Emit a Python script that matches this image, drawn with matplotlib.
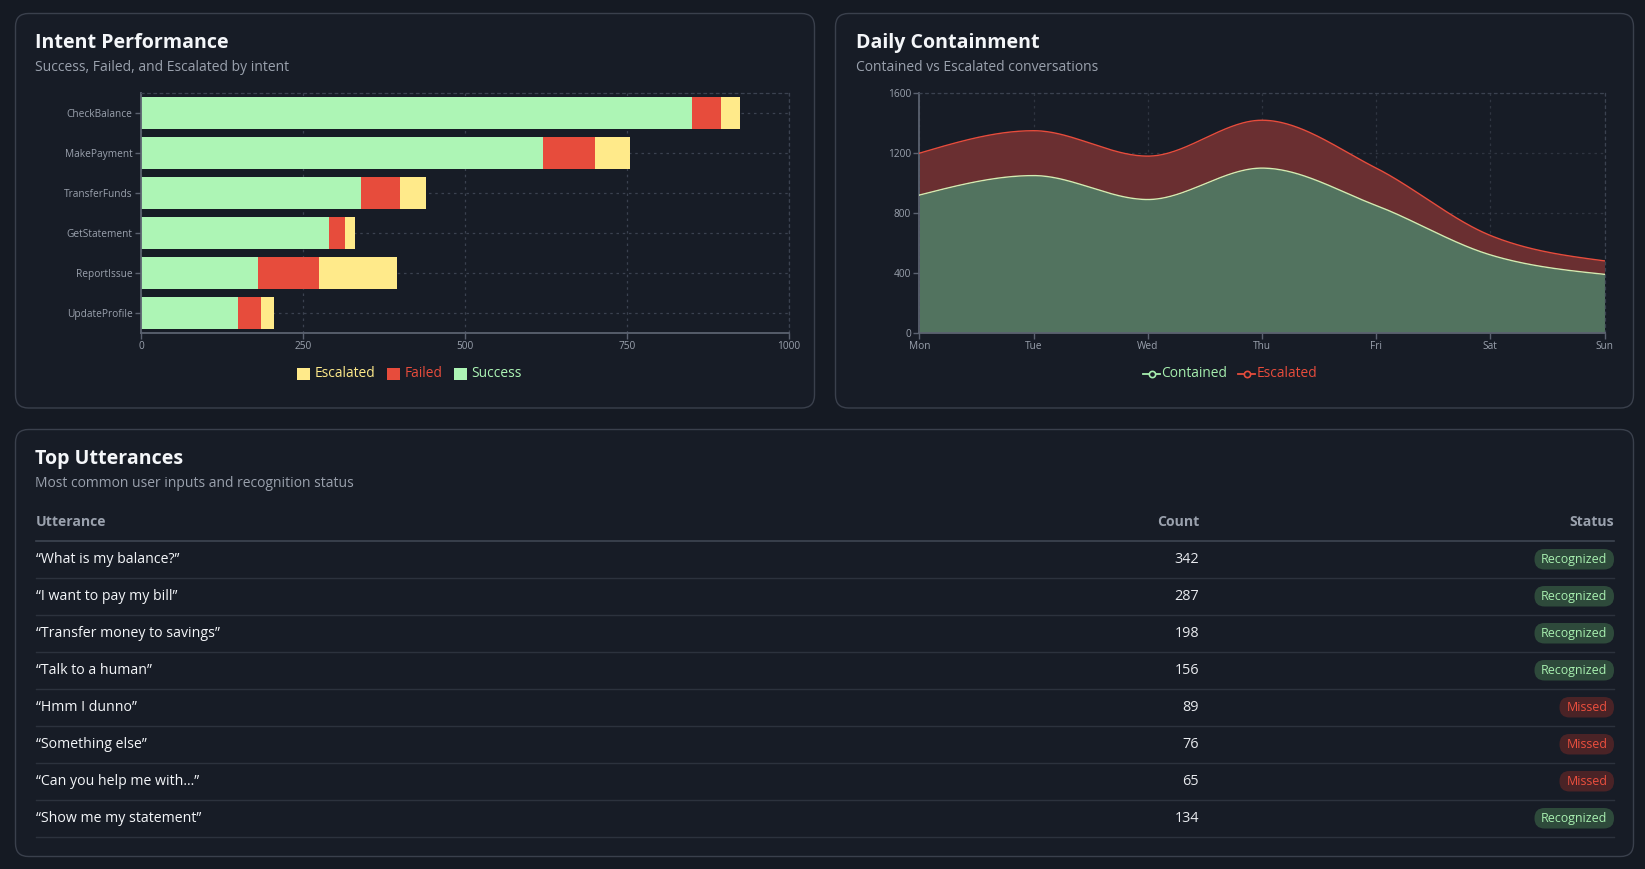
import numpy as np
import matplotlib
matplotlib.use("Agg")
import matplotlib.pyplot as plt
from matplotlib.patches import FancyBboxPatch, Rectangle
from matplotlib.lines import Line2D

# ---------------- data ----------------
intents = ["CheckBalance", "MakePayment", "TransferFunds", "GetStatement", "ReportIssue", "UpdateProfile"]
success = [850, 620, 340, 290, 180, 150]
failed = [45, 80, 60, 25, 95, 35]
escalated = [30, 55, 40, 15, 120, 20]
bar_ticks = [0, 250, 500, 750, 1000]

days = ["Mon", "Tue", "Wed", "Thu", "Fri", "Sat", "Sun"]
contained_daily = [920, 1050, 890, 1100, 850, 520, 390]
escalated_daily = [280, 300, 290, 320, 250, 130, 90]
area_ticks = [0, 400, 800, 1200, 1600]

utterances = ["\u201cWhat is my balance?\u201d", "\u201cI want to pay my bill\u201d",
              "\u201cTransfer money to savings\u201d", "\u201cTalk to a human\u201d",
              "\u201cHmm I dunno\u201d", "\u201cSomething else\u201d",
              "\u201cCan you help me with...\u201d", "\u201cShow me my statement\u201d"]
counts = [342, 287, 198, 156, 89, 76, 65, 134]
statuses = ["Recognized", "Recognized", "Recognized", "Recognized", "Missed", "Missed", "Missed", "Recognized"]

# ---------------- style ----------------
FONT = ["Open Sans", "DejaVu Sans"]
plt.rcParams["font.family"] = FONT
BG = "#151a23"
PANEL = "#171c26"
BORDER = "#3a404c"
WHITE = "#f4f6f9"
SUB = "#9aa1ad"
TICK = "#9aa1ad"
GRID = "#3b4250"
GREEN = "#adf5b5"
RED = "#e74c3c"
YELLOW = "#ffea8a"

W, H = 1645, 869
fig = plt.figure(figsize=(W / 100, H / 100), dpi=100, facecolor=BG)
bg = fig.add_axes([0, 0, 1, 1])
bg.set_xlim(0, W)
bg.set_ylim(H, 0)
bg.axis("off")
bg.set_facecolor(BG)


def panel(x0, y0, x1, y1):
    p = FancyBboxPatch((x0, y0), x1 - x0, y1 - y0,
                       boxstyle="round,pad=0,rounding_size=13",
                       facecolor=PANEL, edgecolor=BORDER, linewidth=1.0)
    bg.add_patch(p)


def add_ax(l, t, r, b):
    return fig.add_axes([l / W, 1 - b / H, (r - l) / W, (b - t) / H])


panel(15.5, 13.5, 814.5, 408)
panel(835.5, 13.5, 1633.5, 408)
panel(15.5, 429.5, 1633.5, 856.5)

def header(x, y, title, sub):
    bg.text(x, y, title, fontsize=14.1, fontweight="bold", color=WHITE, va="center", ha="left")
    bg.text(x, y + 24.5, sub, fontsize=10.0, color=SUB, va="center", ha="left")

header(35, 43, "Intent Performance", "Success, Failed, and Escalated by intent")
header(855.5, 43, "Daily Containment", "Contained vs Escalated conversations")
header(35, 459, "Top Utterances", "Most common user inputs and recognition status")


def style_axes(ax):
    ax.set_facecolor("none")
    for s in ["left", "bottom"]:
        ax.spines[s].set_color("#5b6270")
        ax.spines[s].set_linewidth(1.3)
    for s in ["top", "right"]:
        ax.spines[s].set_color(GRID)
        ax.spines[s].set_linewidth(0.9)
        ax.spines[s].set_linestyle((0, (2, 3)))
    ax.tick_params(colors="#5b6270", labelcolor=TICK, labelsize=7.3, length=4, width=1.0, pad=2)
    ax.set_axisbelow(True)

# ---------------- bar chart ----------------
ax1 = add_ax(141, 93, 789, 333)
style_axes(ax1)
ypos = np.arange(len(intents))
bh = 0.78
ax1.barh(ypos, success, height=bh, color=GREEN, label="Success", zorder=2)
ax1.barh(ypos, failed, height=bh, left=success, color=RED, label="Failed", zorder=2)
left2 = [s + f for s, f in zip(success, failed)]
ax1.barh(ypos, escalated, height=bh, left=left2, color=YELLOW, label="Escalated", zorder=2)
ax1.set_yticks(ypos)
ax1.set_yticklabels(intents)
ax1.set_xticks(bar_ticks)
ax1.set_xticklabels([str(t) for t in bar_ticks])
ax1.set_xlim(0, 1000)
ax1.set_ylim(len(intents) - 0.5, -0.5)
ax1.grid(True, color=GRID, linestyle=(0, (2, 3)), linewidth=0.9)

# bar legend
leg_y = 373.5
for sx, tx, lab, col in [(297, 315, "Escalated", YELLOW), (387, 405, "Failed", RED), (454, 471.5, "Success", GREEN)]:
    bg.add_patch(Rectangle((sx, leg_y - 5.5), 13, 11.5, facecolor=col, edgecolor="none"))
    bg.text(tx, leg_y, lab, color=col, fontsize=9.9, va="center", ha="left")

# ---------------- area chart ----------------
def monotone(xs, ys, n=60):
    xs = np.asarray(xs, float)
    ys = np.asarray(ys, float)
    h = np.diff(xs)
    d = np.diff(ys) / h
    m = np.zeros_like(ys)
    for k in range(1, len(ys) - 1):
        s0, s1 = d[k - 1], d[k]
        h0, h1 = h[k - 1], h[k]
        p = (s0 * h1 + s1 * h0) / (h0 + h1)
        m[k] = (np.sign(s0) + np.sign(s1)) * min(abs(s0), abs(s1), 0.5 * abs(p))
    m[0] = (3 * d[0] - m[1]) / 2
    m[-1] = (3 * d[-1] - m[-2]) / 2
    out_x, out_y = [], []
    for k in range(len(xs) - 1):
        t = np.linspace(0, 1, n, endpoint=(k == len(xs) - 2))
        hk = h[k]
        h00 = 2 * t**3 - 3 * t**2 + 1
        h10 = t**3 - 2 * t**2 + t
        h01 = -2 * t**3 + 3 * t**2
        h11 = t**3 - t**2
        out_x.append(xs[k] + t * hk)
        out_y.append(h00 * ys[k] + h10 * hk * m[k] + h01 * ys[k + 1] + h11 * hk * m[k + 1])
    return np.concatenate(out_x), np.concatenate(out_y)

ax2 = add_ax(919.5, 93.3, 1604.5, 332.7)
style_axes(ax2)
xi = np.arange(len(days))
top_vals = [c + e for c, e in zip(contained_daily, escalated_daily)]
cx, cy = monotone(xi, contained_daily)
tx_, ty = monotone(xi, top_vals)
ax2.fill_between(cx, 0, cy, color="#52735f", linewidth=0, zorder=2)
ax2.fill_between(tx_, cy, ty, color="#6a2f31", linewidth=0, zorder=2)
ax2.plot(cx, cy, color="#d2ecb2", linewidth=1.0, zorder=3)
ax2.plot(tx_, ty, color=RED, linewidth=1.0, zorder=3)
ax2.set_xlim(0, len(days) - 1)
ax2.set_ylim(0, 1600)
ax2.set_xticks(xi)
ax2.set_xticklabels(days)
ax2.set_yticks(area_ticks)
ax2.set_yticklabels([str(t) for t in area_ticks])
ax2.grid(True, color="#434a58", linestyle=(0, (2, 3)), linewidth=0.9)
for g in ax2.get_xgridlines() + ax2.get_ygridlines():
    g.set_zorder(4)
    g.set_alpha(0.55)

# area legend
ly = 373.5
for x0, txx, lab, col in [(1143, 1161, "Contained", "#a6eeae"), (1238, 1256.5, "Escalated", RED)]:
    bg.add_line(Line2D([x0, x0 + 17], [ly, ly], color=col, linewidth=1.3))
    bg.plot([x0 + 8.5], [ly], marker="o", markersize=4.5, markerfacecolor=PANEL,
            markeredgecolor=col, markeredgewidth=1.2)
    bg.text(txx, ly, lab, color=col, fontsize=9.9, va="center", ha="left")

# ---------------- table ----------------
tl, tr = 35.5, 1614
count_right = 1199
bg.text(tl, 522, "Utterance", fontsize=10.1, fontweight="bold", color="#9aa1ad", va="center", ha="left")
bg.text(count_right, 522, "Count", fontsize=10.1, fontweight="bold", color="#9aa1ad", va="center", ha="right")
bg.text(tr, 522, "Status", fontsize=10.1, fontweight="bold", color="#9aa1ad", va="center", ha="right")
bg.add_line(Line2D([tl, tr], [540.5, 540.5], color="#3e4552", linewidth=1.2))

row0 = 559.5
step = 37
for i, (u, c, s) in enumerate(zip(utterances, counts, statuses)):
    yc = row0 + i * step
    bg.text(tl, yc, u, fontsize=10.2, color=WHITE, va="center", ha="left")
    bg.text(count_right, yc, str(c), fontsize=10.4, color="#e8eaee", va="center", ha="right")
    if s == "Recognized":
        bw, fc, tc = 79.5, "#2e4a3b", "#a8f0b0"
    else:
        bw, fc, tc = 54.5, "#4a2326", "#ec4f3e"
    bg.add_patch(FancyBboxPatch((tr - bw, yc - 10.5), bw, 20.5,
                                boxstyle="round,pad=0,rounding_size=10",
                                facecolor=fc, edgecolor="none"))
    bg.text(tr - bw / 2, yc, s, fontsize=8.9, color=tc, va="center", ha="center")
    bg.add_line(Line2D([tl, tr], [yc + 18, yc + 18], color="#2c323d", linewidth=1.0))

fig.savefig("out.png", dpi=100, facecolor=BG)
